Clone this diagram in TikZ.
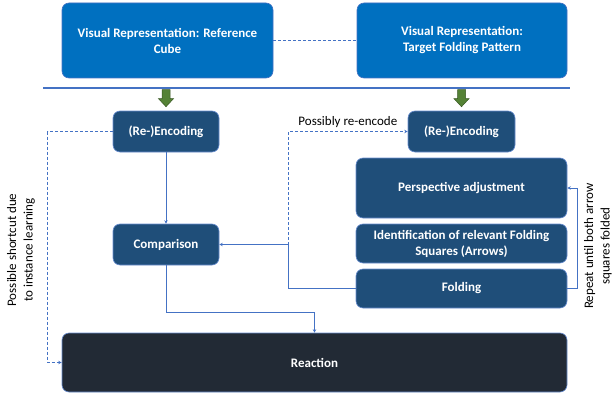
\documentclass[tikz,border=0pt]{standalone}
\usepackage{fontspec}
\setmainfont{Carlito}
\usetikzlibrary{arrows.meta}
\definecolor{topblue}{RGB}{0, 112, 192}
\definecolor{midblue}{RGB}{31, 78, 121}
\definecolor{darkslate}{RGB}{34, 42, 53}
\definecolor{lineblue}{RGB}{68, 114, 196}
\definecolor{leafgreen}{RGB}{84, 130, 53}
\definecolor{leafdark}{RGB}{56, 87, 35}

\tikzset{
  box/.style={rounded corners=7pt, draw=lineblue!80, line width=0.6pt, fill=midblue, text=white,
              font=\bfseries\fontsize{13}{16}\selectfont, align=center, inner sep=0pt},
  topbox/.style={box, fill=topblue, draw=lineblue},
  endbox/.style={box, fill=darkslate, draw=lineblue!80},
  link/.style={draw=lineblue, line width=1pt, -{Stealth[length=3.5pt,width=3.5pt]}},
  dashlink/.style={link, dash pattern=on 3pt off 2pt},
  sidenote/.style={font=\fontsize{13}{16.5}\selectfont, align=center}
}

\begin{document}
\begin{tikzpicture}[x=1pt, y=-1pt]
            \useasboundingbox (0,0) rectangle (613,396);
            % Visual representations
            \node[topbox, minimum width=211pt, minimum height=75pt] (visref)    at (167.5, 40.5) {Visual Representation: Reference\\Cube};
            \node[topbox, minimum width=210pt, minimum height=75pt] (vistarget) at (462.0, 40.5) {Visual Representation:\\Target Folding Pattern};
            \draw[lineblue, line width=1pt, dash pattern=on 3pt off 2pt] (visref) -- (vistarget);
            \draw[lineblue, line width=1.2pt] (43, 88) -- (570, 88);
            % Processing steps
            \node[box, minimum width=106pt, minimum height=41pt] (encL)  at (166.0, 131.5) {(Re-)Encoding};
            \node[box, minimum width=107pt, minimum height=41pt] (encR)  at (461.5, 131.5) {(Re-)Encoding};
            \node[box, minimum width=106pt, minimum height=41pt] (cmp)   at (166.0, 244.5) {Comparison};
            \node[box, minimum width=211pt, minimum height=60pt] (persp) at (461.5, 188.0) {Perspective adjustment};
            \node[box, minimum width=211pt, minimum height=39pt] (ident) at (461.5, 243.5) {Identification of relevant Folding\\Squares (Arrows)};
            \node[box, minimum width=211pt, minimum height=39pt] (fold)  at (461.5, 288.5) {Folding};
            \node[endbox, minimum width=505pt, minimum height=59pt] (react) at (314.5, 362.5) {Reaction};
            % Green block arrows
            \foreach \n in {encL, encR}
                \filldraw[fill=leafgreen, draw=leafdark, line width=0.5pt]
                    ([xshift=-4pt, yshift=21pt]\n.north) -- ++(8,0) -- ++(0,9) -- ++(3.5,0) -- ([yshift=4pt]\n.north)
                    -- ([xshift=-7.5pt, yshift=12pt]\n.north) -- ++(3.5,0) -- cycle;
            % Connectors
            \coordinate (junc) at (288, 244.5);
            \draw[link] (encL) -- (cmp);
            \draw[link] (fold.west) -| (junc) -- (cmp.east);
            \draw[dashlink] (junc) |- (encR.west) node[pos=0.75, above, sidenote, text=black, yshift=0pt] {Possibly re-encode};
            \draw[dashlink] (encL.west) -- ++(-65,0) |- (react.west);
            \draw[link] (cmp.south) -- ++(0,47) -| (react.north);
            \draw[link] (fold.east) -- ++(10,0) |- (persp.east);
            % Side notes
            \node[sidenote, rotate=90] (shortcut) at (21, 250) {Possible shortcut due\\to instance learning};
            \node[sidenote, rotate=90] (repeat)   at (598, 246) {Repeat until both arrow\\squares folded};
\end{tikzpicture}
\end{document}
